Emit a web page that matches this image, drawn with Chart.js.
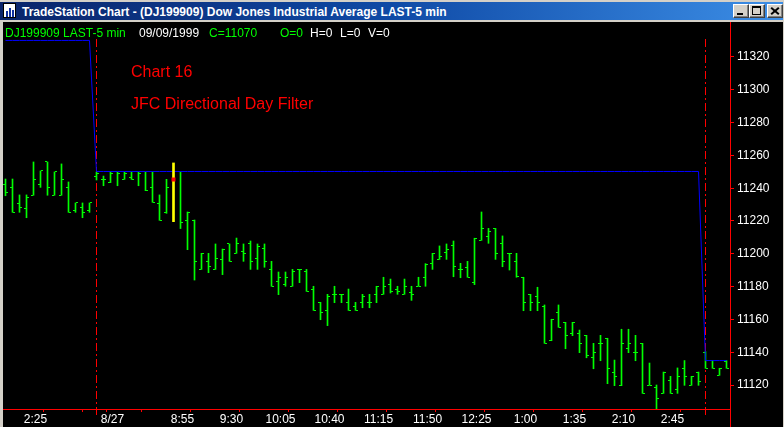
<!DOCTYPE html>
<html>
<head>
<meta charset="utf-8">
<script src="https://cdn.jsdelivr.net/npm/chart.js@4.4.1/dist/chart.umd.min.js"></script>
<style>
body { margin:0; width:784px; height:427px; background:#d4d0c8; position:relative; overflow:hidden; font-family:"Liberation Sans", Arial, sans-serif; }
#tb { position:absolute; left:0; top:2px; width:783px; height:18px; background:linear-gradient(to right, #0a246a 0%, #0f4aa6 50%, #3c8ee6 100%); }
#ttl { position:absolute; left:22px; top:4px; font-weight:bold; font-size:12px; line-height:12px; color:#fff; white-space:nowrap; }
#icon { position:absolute; left:3px; top:1px; width:13px; height:15px; background:#fff; border:1px solid #000; box-sizing:border-box; }
#icon div { position:absolute; background:#1030a0; width:2px; }
.btn { position:absolute; top:2px; width:16px; height:14px; box-sizing:border-box; background:#d4d0c8; border-top:1px solid #fff; border-left:1px solid #fff; border-right:1px solid #404040; border-bottom:1px solid #404040; box-shadow: inset -1px -1px #808080; }
#c { position:absolute; left:3px; top:22px; background:#000; }
.t { position:absolute; font-size:12px; line-height:12px; white-space:nowrap; top:27px; }
.g { color:#00ff00; }
.w { color:#ffffff; }
.r { position:absolute; left:131px; font-size:16px; line-height:16px; color:#ff0000; white-space:nowrap; }
</style>
</head>
<body>
<div id="tb">
  <div id="icon"><div style="left:2px;top:7px;height:6px"></div><div style="left:5px;top:4px;height:9px"></div><div style="left:8px;top:6px;height:7px"></div></div>
  <div id="ttl">TradeStation Chart - (DJ199909) Dow Jones Industrial Average LAST-5 min</div>
  <div class="btn" style="left:733px"><div style="position:absolute;left:3px;top:8px;width:6px;height:2px;background:#000"></div></div>
  <div class="btn" style="left:749px"><div style="position:absolute;left:2px;top:1px;width:9px;height:9px;box-sizing:border-box;border:1px solid #000;border-top-width:2px"></div></div>
  <div class="btn" style="left:767px"><div style="position:absolute;left:2px;top:5px;width:10px;height:2px;background:#000;transform:rotate(40deg)"></div><div style="position:absolute;left:2px;top:5px;width:10px;height:2px;background:#000;transform:rotate(-40deg)"></div></div>
</div>
<canvas id="c" width="780" height="405"></canvas>
<div class="t g" style="left:5px">DJ199909 LAST-5 min</div>
<div class="t w" style="left:139px">09/09/1999</div>
<div class="t g" style="left:209px">C=11070</div>
<div class="t g" style="left:280px">O=0</div>
<div class="t w" style="left:310px">H=0</div>
<div class="t w" style="left:340px">L=0</div>
<div class="t w" style="left:368px">V=0</div>
<div class="r" style="top:64px">Chart 16</div>
<div class="r" style="top:96px">JFC Directional Day Filter</div>
<script>
// 5 minute bars, index 0 = first bar shown (previous session), 13 = first bar of 8/27, 100 = next session
var opens = [
  11242.0, 11240.5, 11230.8, 11227.7, 11235.7, 11242.4, 11256.0, 11235.7, 11235.7, 11240.5, 11226.5, 11228.4, 11226.5,
  11247.4, 11245.6, 11243.4, 11249.9, 11245.4, 11246.6, 11249.9, 11249.9, 11240.5, 11230.8,
  11225.3, null, 11249.9, 11220.0, 11220.6, 11190.5, 11195.4, 11190.5, 11196.6, 11206.0,
  11200.3, 11201.7, 11206.0, 11197.3, 11203.4, 11190.5, 11183.2, 11181.4, 11180.2, 11190.5,
  11189.3, 11178.4, 11170.4, 11165.5, 11175.3, 11175.3, 11170.4, 11167.6, 11170.4, 11170.4,
  11175.3, 11175.3, 11181.4, 11178.5, 11175.3, 11176.5, 11180.2, 11185.7, 11194.2, 11196.6,
  11200.5, 11204.8, 11190.5, 11191.8, 11182.6, 11208.2, 11210.7, 11215.5, 11206.0, 11200.3,
  11195.4, 11185.7, 11175.3, 11173.7, 11167.7, 11147.0, 11164.3, 11158.2, 11151.5, 11151.5,
  11150.3, 11136.9, 11145.4, 11148.5, 11127.7, 11119.6, 11142.4, 11139.9, 11145.4, 11119.8,
  11118.4, 11114.9, 11122.9, 11117.0, 11130.2, 11119.8, 11127.9,
  11139.9, 11134.9, 11125.9, 11134.2
];
var highs = [
  11245.6, 11245.6, 11235.9, 11235.9, 11256.0, 11250.5, 11256.0, 11249.9, 11254.8, 11243.8, 11231.0, 11231.0, 11231.0,
  11249.9, 11247.4, 11249.9, 11249.9, 11249.9, 11249.9, 11249.9, 11249.9, 11249.9, 11235.9,
  11245.4, null, 11249.9, 11225.5, 11220.6, 11200.3, 11200.3, 11206.0, 11202.9, 11206.0,
  11209.6, 11206.0, 11207.8, 11206.0, 11206.0, 11195.4, 11188.9, 11188.9, 11190.5, 11190.5,
  11190.5, 11180.2, 11170.4, 11175.3, 11180.2, 11175.3, 11178.5, 11170.4, 11175.3, 11175.3,
  11180.2, 11185.7, 11184.6, 11180.2, 11184.6, 11180.2, 11185.7, 11194.0, 11200.3, 11204.8,
  11206.0, 11207.8, 11194.2, 11195.4, 11209.5, 11225.5, 11215.5, 11215.5, 11210.9, 11200.3,
  11200.3, 11185.7, 11175.3, 11179.6, 11168.8, 11160.1, 11168.8, 11158.2, 11158.2, 11153.5,
  11150.3, 11145.4, 11150.3, 11148.5, 11135.2, 11154.0, 11154.0, 11150.3, 11145.4, 11133.4,
  11120.0, 11127.9, 11125.3, 11130.4, 11134.9, 11125.3, 11127.9,
  11140.3, 11134.9, 11130.2, 11134.9
];
var lows = [
  11235.4, 11225.3, 11225.3, 11222.0, 11235.7, 11240.5, 11235.7, 11235.7, 11235.7, 11225.3, 11225.3, 11222.0, 11225.3,
  11245.0, 11241.5, 11243.4, 11241.5, 11245.4, 11245.4, 11241.5, 11238.5, 11231.4, 11220.4,
  11224.7, null, 11215.4, 11202.5, 11184.0, 11190.5, 11188.5, 11190.5, 11187.3, 11195.4,
  11200.3, 11195.4, 11190.5, 11190.5, 11191.8, 11180.2, 11175.1, 11180.2, 11180.2, 11182.4,
  11177.1, 11165.5, 11159.8, 11156.2, 11170.2, 11170.2, 11165.5, 11165.5, 11167.1, 11167.1,
  11170.2, 11175.3, 11176.1, 11175.3, 11175.3, 11171.6, 11180.2, 11180.2, 11190.5, 11196.6,
  11196.6, 11186.0, 11185.4, 11185.7, 11181.2, 11208.2, 11206.4, 11196.6, 11192.1, 11190.1,
  11185.7, 11165.3, 11165.3, 11165.3, 11145.4, 11147.0, 11155.2, 11142.1, 11150.1, 11139.7,
  11136.6, 11129.9, 11134.8, 11120.8, 11119.6, 11119.6, 11139.7, 11134.8, 11114.9, 11119.8,
  11104.0, 11114.9, 11114.9, 11114.9, 11119.8, 11119.8, 11119.8,
  11130.2, 11130.2, 11125.9, 11130.2
];
var closes = [
  11237.5, 11225.3, 11228.4, 11234.5, 11245.4, 11250.5, 11240.5, 11249.9, 11245.4, 11225.3, 11231.0, 11225.1, 11231.0,
  11248.7, 11245.6, 11248.7, 11248.7, 11248.7, 11245.4, 11248.7, 11238.5, 11231.4, 11220.4,
  11240.5, null, 11218.8, 11224.9, 11195.6, 11200.3, 11192.4, 11197.3, 11202.9, 11195.4,
  11206.0, 11200.3, 11195.4, 11204.6, 11195.4, 11180.2, 11185.7, 11185.7, 11189.3, 11190.5,
  11177.1, 11165.5, 11164.3, 11173.7, 11175.3, 11175.3, 11165.5, 11165.5, 11173.7, 11170.4,
  11180.2, 11180.2, 11177.1, 11177.1, 11180.2, 11175.3, 11180.2, 11193.6, 11200.3, 11198.5,
  11202.9, 11192.4, 11190.5, 11185.7, 11209.5, 11215.4, 11213.7, 11200.3, 11195.4, 11200.3,
  11186.0, 11170.4, 11170.4, 11170.4, 11145.4, 11160.1, 11155.2, 11150.3, 11158.2, 11145.4,
  11137.9, 11139.9, 11145.4, 11130.2, 11125.3, 11145.4, 11145.4, 11139.9, 11114.9, 11119.8,
  11111.6, 11127.5, 11114.9, 11125.3, 11125.3, 11125.3, 11122.4,
  11130.2, 11130.2, 11130.2, 11130.2
];
// directional day filter level (blue)
var filterLevel = [
  11330.1, 11330.1, 11330.1, 11330.1, 11330.1, 11330.1, 11330.1, 11330.1, 11330.1, 11330.1, 11330.1, 11330.1, 11330.1,
  11250.2, 11250.2, 11250.2, 11250.2, 11250.2, 11250.2, 11250.2, 11250.2, 11250.2, 11250.2,
  11250.2, 11250.2, 11250.2, 11250.2, 11250.2, 11250.2, 11250.2, 11250.2, 11250.2, 11250.2,
  11250.2, 11250.2, 11250.2, 11250.2, 11250.2, 11250.2, 11250.2, 11250.2, 11250.2, 11250.2,
  11250.2, 11250.2, 11250.2, 11250.2, 11250.2, 11250.2, 11250.2, 11250.2, 11250.2, 11250.2,
  11250.2, 11250.2, 11250.2, 11250.2, 11250.2, 11250.2, 11250.2, 11250.2, 11250.2, 11250.2,
  11250.2, 11250.2, 11250.2, 11250.2, 11250.2, 11250.2, 11250.2, 11250.2, 11250.2, 11250.2,
  11250.2, 11250.2, 11250.2, 11250.2, 11250.2, 11250.2, 11250.2, 11250.2, 11250.2, 11250.2,
  11250.2, 11250.2, 11250.2, 11250.2, 11250.2, 11250.2, 11250.2, 11250.2, 11250.2, 11250.2,
  11250.2, 11250.2, 11250.2, 11250.2, 11250.2, 11250.2, 11250.2,
  11134.9, 11134.9, 11134.9, 11134.9
];
// signal bar (yellow) and entry mark (red)
var signalBar = 24;
var signalHigh = 11255.4;
var signalLow = 11219.6;
var signalPrice = 11245.3;

var dayBreaks = [13, 100];
var xTickPos  = [2, 9, 13, 16, 23, 30, 37, 44, 51, 58, 65, 72, 79, 86, 93, 100];
var xTickText = ['2:25', '', '8/27', '', '8:55', '9:30', '10:05', '10:40', '11:15', '11:50', '12:25', '1:00', '1:35', '2:10', '2:45', ''];
var yTicks = [11120, 11140, 11160, 11180, 11200, 11220, 11240, 11260, 11280, 11300, 11320];

var rangeData = [], lineData = [];
for (var i = 0; i < highs.length; i++) {
  if (highs[i] != null) rangeData.push({x: i, y: [lows[i], highs[i]]});
  lineData.push({x: i, y: filterLevel[i]});
}

var font = {family: '"Liberation Sans", Arial, sans-serif', size: 12};

var barTicks = {
  id: 'barTicks',
  beforeDatasetsDraw: function(chart) {
    var ctx = chart.ctx, ca = chart.chartArea, x = chart.scales.x, y = chart.scales.y;
    ctx.save();
    ctx.strokeStyle = '#ff0000';
    ctx.lineWidth = 1;
    ctx.setLineDash([8, 3, 2, 3]);
    dayBreaks.forEach(function(b) {
      var px = Math.floor(x.getPixelForValue(b)) + 0.5;
      ctx.beginPath();
      ctx.moveTo(px, ca.top + 17);
      ctx.lineTo(px, ca.bottom + 6);
      ctx.stroke();
    });
    ctx.setLineDash([]);
    ctx.beginPath();
    ctx.rect(ca.left, ca.top, ca.right - ca.left, ca.bottom - ca.top);
    ctx.clip();
    ctx.fillStyle = '#00ff00';
    for (var i = 0; i < opens.length; i++) {
      var px = Math.floor(x.getPixelForValue(i));
      if (opens[i] != null) ctx.fillRect(px - 2, Math.floor(y.getPixelForValue(opens[i])), 2, 1);
      if (closes[i] != null) ctx.fillRect(px + 1, Math.floor(y.getPixelForValue(closes[i])), 2, 1);
    }
    ctx.restore();
  },
  afterDraw: function(chart) {
    var ctx = chart.ctx, ca = chart.chartArea;
    ctx.save();
    ctx.fillStyle = '#ff0000';
    ctx.fillRect(ca.right, ca.bottom, 1, chart.height - ca.bottom);
    ctx.restore();
  }
};

Chart.defaults.font.family = font.family;

new Chart(document.getElementById('c'), {
  type: 'line',
  data: {
    datasets: [
      {
        type: 'scatter', label: 'entry', data: [{x: signalBar, y: signalPrice}],
        pointStyle: 'rect', pointRadius: 2.83, pointBackgroundColor: '#ff0000', pointBorderWidth: 0, order: 0
      },
      {
        type: 'bar', label: 'signal', data: [{x: signalBar, y: [signalLow, signalHigh]}],
        backgroundColor: '#ffff00', barThickness: 2, grouped: false, order: 1
      },
      {
        type: 'line', label: 'filter', data: lineData,
        borderColor: '#0000ff', borderWidth: 1, pointRadius: 0, tension: 0, fill: false, order: 2
      },
      {
        type: 'bar', label: 'range', data: rangeData,
        backgroundColor: '#00ff00', barThickness: 1, grouped: false, order: 3
      }
    ]
  },
  options: {
    responsive: false,
    animation: false,
    devicePixelRatio: 1,
    layout: { padding: 0, autoPadding: false },
    plugins: { legend: { display: false }, tooltip: { enabled: false } },
    scales: {
      x: {
        type: 'linear', position: 'bottom', offset: false,
        min: -0.35714, max: 103.5,
        afterFit: function(s) { s.height = 18; s.paddingLeft = 0; s.paddingRight = 0; },
        afterBuildTicks: function(s) { s.ticks = xTickPos.map(function(v) { return {value: v}; }); },
        grid: { drawOnChartArea: false, color: '#ff0000', tickColor: '#ff0000', tickLength: 3 },
        border: { color: '#ff0000', width: 1 },
        ticks: {
          color: '#ffffff', font: font, labelOffset: 16, maxRotation: 0, autoSkip: false, padding: 0,
          callback: function(v, idx) { return xTickText[idx]; }
        }
      },
      y: {
        type: 'linear', position: 'right',
        min: 11105.366, max: 11341.341,
        afterFit: function(s) { s.width = 53; s.paddingTop = 0; s.paddingBottom = 0; },
        afterBuildTicks: function(s) { s.ticks = yTicks.map(function(v) { return {value: v}; }); },
        grid: { drawOnChartArea: false, color: '#ff0000', tickColor: '#ff0000', tickLength: 4 },
        border: { color: '#ff0000', width: 1 },
        ticks: {
          color: '#ffffff', font: font, padding: 3,
          callback: function(v) { return String(v); }
        }
      }
    }
  },
  plugins: [barTicks]
});
</script>
</body>
</html>
